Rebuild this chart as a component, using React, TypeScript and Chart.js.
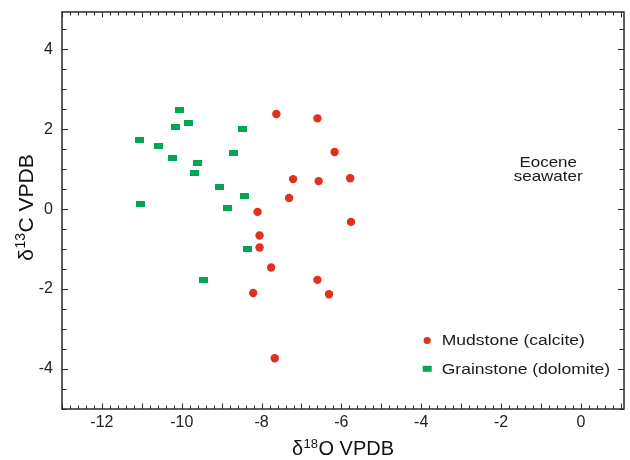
import React, { useEffect, useRef } from 'react';
import { Chart, registerables } from 'chart.js';
Chart.register(...registerables);

// ---- data ----
const mudstoneX = [-7.63, -6.6, -6.17, -7.21, -6.57, -5.78, -7.31, -8.1, -5.76, -8.05, -8.05, -7.76, -6.6, -8.21, -6.31, -7.67];
const mudstoneY = [2.38, 2.27, 1.43, 0.75, 0.7, 0.77, 0.28, -0.07, -0.32, -0.66, -0.96, -1.46, -1.77, -2.1, -2.13, -3.73];
const grainstoneX = [-10.06, -9.83, -10.16, -8.48, -11.06, -10.58, -10.23, -8.71, -9.61, -9.68, -9.06, -8.43, -11.03, -8.86, -8.36, -9.46];
const grainstoneY = [2.48, 2.16, 2.06, 2.01, 1.73, 1.58, 1.28, 1.41, 1.16, 0.91, 0.56, 0.33, 0.13, 0.03, -0.99, -1.77];
const xTickLabels = [-12, -10, -8, -6, -4, -2, 0];
const yTickLabels = [-4, -2, 0, 2, 4];
const seriesNames = ['Mudstone (calcite)', 'Grainstone (dolomite)'];
const annotationLines = ['Eocene', 'seawater'];
const xTitle = { pre: 'δ', sup: '18', post: 'O VPDB' };
const yTitle = { pre: 'δ', sup: '13', post: 'C VPDB' };

const RED = '#E0301E';
const GREEN = '#00A652';
const AXIS = '#2a2a2a';
const FONT = '"Liberation Sans", Arial, sans-serif';

function makeRect(w: number, h: number, color: string) {
  const c = document.createElement('canvas');
  c.width = w;
  c.height = h;
  const g = c.getContext('2d')!;
  g.fillStyle = color;
  g.fillRect(0, 0, w, h);
  return c;
}

function drawTitle(ctx: CanvasRenderingContext2D, t: { pre: string; sup: string; post: string }, size: number, supSize: number) {
  ctx.font = `${size}px ${FONT}`;
  const w1 = ctx.measureText(t.pre).width;
  const w3 = ctx.measureText(t.post).width;
  ctx.font = `${supSize}px ${FONT}`;
  const w2 = ctx.measureText(t.sup).width;
  const total = w1 + w2 + w3 + 1;
  let x = -total / 2;
  ctx.textAlign = 'left';
  ctx.textBaseline = 'alphabetic';
  ctx.font = `${size}px ${FONT}`;
  ctx.fillText(t.pre, x, 0);
  x += w1 + 0.5;
  ctx.font = `${supSize}px ${FONT}`;
  ctx.fillText(t.sup, x, -size * 0.36);
  x += w2 + 0.5;
  ctx.font = `${size}px ${FONT}`;
  ctx.fillText(t.post, x, 0);
}

const decorPlugin = {
  id: 'decor',
  afterDraw(chart: any) {
    const ctx: CanvasRenderingContext2D = chart.ctx;
    const { left, right, top, bottom } = chart.chartArea;
    const xs = chart.scales.x;
    const ys = chart.scales.y;
    ctx.save();
    ctx.strokeStyle = AXIS;
    ctx.lineWidth = 1.5;
    ctx.strokeRect(left, top, right - left, bottom - top);
    ctx.lineWidth = 1;
    ctx.beginPath();
    for (let i = Math.ceil(xs.min * 5); i <= Math.floor(xs.max * 5); i++) {
      const v = i / 5;
      const px = Math.round(xs.getPixelForValue(v)) + 0.5;
      const len = i % 5 === 0 ? 5.5 : 3.5;
      ctx.moveTo(px, bottom);
      ctx.lineTo(px, bottom - len);
      ctx.moveTo(px, top);
      ctx.lineTo(px, top + len);
    }
    for (let i = Math.ceil(ys.min * 2); i <= Math.floor(ys.max * 2); i++) {
      const v = i / 2;
      const py = Math.round(ys.getPixelForValue(v)) + 0.5;
      const len = i % 4 === 0 ? 6 : 4.5;
      ctx.moveTo(left, py);
      ctx.lineTo(left + len, py);
      ctx.moveTo(right, py);
      ctx.lineTo(right - len, py);
    }
    ctx.stroke();

    ctx.fillStyle = '#111';
    ctx.save();
    ctx.translate((left + right) / 2, 455);
    drawTitle(ctx, xTitle, 20, 13);
    ctx.restore();
    ctx.save();
    ctx.translate(33, (top + bottom) / 2 - 3);
    ctx.rotate(-Math.PI / 2);
    drawTitle(ctx, yTitle, 21, 14);
    ctx.restore();

    const lx = xs.getPixelForValue(-3.85);
    ctx.fillStyle = RED;
    ctx.beginPath();
    ctx.arc(lx, 340.5, 3.6, 0, Math.PI * 2);
    ctx.fill();
    ctx.fillStyle = GREEN;
    ctx.fillRect(lx - 4.5, 365.8, 9, 6);
    ctx.fillStyle = '#1a1a1a';
    ctx.textAlign = 'left';
    ctx.textBaseline = 'middle';
    ctx.font = `15.5px ${FONT}`;
    [340.8, 369.3].forEach((yy, i) => {
      ctx.save();
      ctx.translate(lx + 14.5, yy);
      ctx.scale(1.13, 1);
      ctx.fillText(seriesNames[i], 0, 0);
      ctx.restore();
    });

    ctx.textAlign = 'center';
    ctx.textBaseline = 'alphabetic';
    ctx.font = `15px ${FONT}`;
    const ax = xs.getPixelForValue(-0.82);
    [166.5, 181].forEach((yy, i) => {
      ctx.save();
      ctx.translate(ax, yy);
      ctx.scale(1.13, 1);
      ctx.fillText(annotationLines[i], 0, 0);
      ctx.restore();
    });
    ctx.restore();
  },
};

export default function App() {
  const ref = useRef<HTMLCanvasElement>(null);
  useEffect(() => {
    document.body.style.margin = '0';
    document.body.style.overflow = 'hidden';
    const greenRect = makeRect(9, 6, GREEN);
    const chart = new Chart(ref.current!, {
      type: 'scatter',
      data: {
        datasets: [
          {
            label: seriesNames[0],
            data: mudstoneX.map((x, i) => ({ x, y: mudstoneY[i] })),
            backgroundColor: RED,
            borderColor: RED,
            borderWidth: 0,
            pointRadius: 4.2,
            pointStyle: 'circle',
          },
          {
            label: seriesNames[1],
            data: grainstoneX.map((x, i) => ({ x, y: grainstoneY[i] })),
            backgroundColor: GREEN,
            borderColor: GREEN,
            pointRadius: 5,
            pointStyle: greenRect as any,
          },
        ],
      },
      options: {
        responsive: false,
        animation: false,
        layout: { padding: { top: 12, right: 5, left: 0, bottom: 0 } },
        plugins: { legend: { display: false }, tooltip: { enabled: false } },
        scales: {
          x: {
            type: 'linear',
            min: -13,
            max: 1.08,
            afterBuildTicks: (s: any) => {
              s.ticks = xTickLabels.map((v) => ({ value: v }));
            },
            afterFit: (s: any) => {
              s.height = 51;
              s.paddingLeft = 0;
              s.paddingRight = 0;
              s.paddingTop = 0;
              s.paddingBottom = 0;
            },
            grid: { display: false, drawTicks: false },
            border: { display: false },
            ticks: {
              font: { family: FONT, size: 16 },
              color: '#222',
              padding: 4,
              maxRotation: 0,
              autoSkip: false,
              callback: (v: any) => String(v),
            },
          },
          y: {
            type: 'linear',
            min: -5,
            max: 4.93,
            afterBuildTicks: (s: any) => {
              s.ticks = yTickLabels.map((v) => ({ value: v }));
            },
            afterFit: (s: any) => {
              s.width = 62;
              s.paddingLeft = 0;
              s.paddingRight = 0;
              s.paddingTop = 0;
              s.paddingBottom = 0;
            },
            grid: { display: false, drawTicks: false },
            border: { display: false },
            ticks: {
              font: { family: FONT, size: 16 },
              color: '#222',
              padding: 9,
              autoSkip: false,
              callback: (v: any) => String(v),
            },
          },
        },
      },
      plugins: [decorPlugin],
    });
    return () => chart.destroy();
  }, []);
  return <canvas ref={ref} width={630} height={460} style={{ display: 'block', width: 630, height: 460 }} />;
}
